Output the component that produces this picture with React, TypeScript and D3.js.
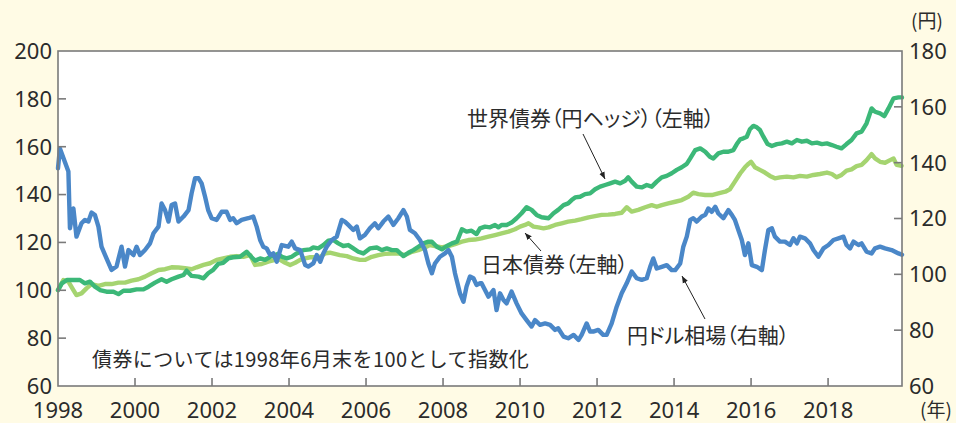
import React from "react";
import * as d3 from "d3";

// 円ドル相場 (右軸, 円) [年, 値]
const yenUsd: [number, number][] = [
  [1998.0, 138.0], [1998.05, 145.1], [1998.27, 136.8], [1998.31, 116.5], [1998.4, 123.6],
  [1998.48, 113.5], [1998.61, 118.3], [1998.7, 119.5], [1998.79, 118.9], [1998.87, 122.1],
  [1998.96, 121.2], [1999.05, 117.1], [1999.13, 109.9], [1999.26, 105.7], [1999.39, 101.6],
  [1999.52, 102.8], [1999.65, 109.9], [1999.74, 102.8], [1999.83, 108.7], [1999.96, 106.9],
  [2000.04, 109.9], [2000.13, 106.9], [2000.26, 108.7], [2000.39, 111.1], [2000.48, 114.7],
  [2000.61, 117.1], [2000.69, 125.4], [2000.78, 123.0], [2000.87, 118.9], [2000.95, 124.8],
  [2001.04, 125.4], [2001.13, 118.9], [2001.26, 120.7], [2001.39, 123.0], [2001.47, 129.0],
  [2001.56, 134.4], [2001.65, 134.4], [2001.73, 132.6], [2001.82, 127.8], [2001.9, 123.0],
  [2001.99, 120.1], [2002.12, 119.5], [2002.25, 122.4], [2002.38, 122.4], [2002.47, 119.5],
  [2002.55, 120.1], [2002.64, 118.3], [2002.77, 119.5], [2002.94, 120.1], [2003.07, 120.7],
  [2003.16, 117.1], [2003.25, 112.3], [2003.33, 109.9], [2003.42, 109.3], [2003.51, 106.9],
  [2003.59, 107.5], [2003.68, 104.5], [2003.81, 110.5], [2003.98, 109.9], [2004.07, 111.7],
  [2004.16, 109.3], [2004.29, 108.7], [2004.42, 103.3], [2004.5, 102.8], [2004.63, 103.9],
  [2004.72, 106.9], [2004.81, 104.5], [2004.89, 107.5], [2004.98, 109.9], [2005.11, 112.3],
  [2005.24, 113.5], [2005.37, 119.5], [2005.45, 118.9], [2005.54, 117.7], [2005.67, 115.9],
  [2005.76, 117.1], [2005.84, 112.9], [2005.97, 114.1], [2006.1, 116.5], [2006.23, 118.3],
  [2006.32, 116.5], [2006.45, 118.9], [2006.58, 120.7], [2006.71, 117.7], [2006.84, 120.1],
  [2006.97, 123.0], [2007.06, 120.7], [2007.14, 115.9], [2007.27, 114.7], [2007.4, 112.3],
  [2007.53, 108.7], [2007.62, 103.9], [2007.71, 100.4], [2007.79, 103.9], [2007.92, 106.3],
  [2008.05, 107.5], [2008.14, 108.7], [2008.23, 106.3], [2008.31, 100.4], [2008.44, 93.2],
  [2008.53, 90.2], [2008.61, 95.6], [2008.7, 99.2], [2008.79, 98.6], [2008.87, 96.2],
  [2008.96, 96.8], [2009.0, 96.8], [2009.18, 92.0], [2009.31, 94.4], [2009.39, 87.2],
  [2009.48, 93.2], [2009.57, 90.8], [2009.65, 89.6], [2009.78, 93.8], [2009.91, 89.6],
  [2010.04, 86.0], [2010.17, 83.6], [2010.3, 81.3], [2010.39, 83.6], [2010.52, 81.9],
  [2010.65, 82.4], [2010.78, 81.9], [2010.91, 80.1], [2010.99, 80.7], [2011.13, 77.7],
  [2011.25, 77.1], [2011.39, 78.3], [2011.52, 76.5], [2011.6, 78.3], [2011.73, 82.4],
  [2011.82, 79.5], [2011.9, 79.5], [2012.03, 80.1], [2012.16, 78.3], [2012.25, 78.3],
  [2012.38, 82.4], [2012.51, 88.4], [2012.64, 93.2], [2012.77, 96.8], [2012.9, 101.0],
  [2013.03, 98.6], [2013.16, 98.0], [2013.29, 98.6], [2013.38, 102.7], [2013.46, 105.7],
  [2013.55, 102.1], [2013.68, 102.7], [2013.81, 103.3], [2013.94, 101.5], [2014.03, 101.5],
  [2014.16, 103.9], [2014.24, 109.9], [2014.33, 113.5], [2014.42, 119.5], [2014.5, 120.1],
  [2014.59, 118.9], [2014.72, 120.7], [2014.81, 121.3], [2014.89, 123.6], [2014.98, 122.4],
  [2015.07, 124.2], [2015.15, 121.8], [2015.28, 120.1], [2015.41, 123.0], [2015.5, 121.3],
  [2015.58, 119.5], [2015.67, 115.9], [2015.76, 112.3], [2015.84, 106.9], [2015.93, 111.1],
  [2016.02, 103.3], [2016.15, 102.7], [2016.28, 101.5], [2016.36, 108.7], [2016.45, 115.9],
  [2016.54, 116.5], [2016.62, 113.5], [2016.75, 111.7], [2016.88, 111.7], [2017.01, 110.5],
  [2017.1, 112.9], [2017.19, 111.1], [2017.27, 113.5], [2017.4, 112.9], [2017.53, 111.1],
  [2017.62, 108.7], [2017.75, 106.3], [2017.88, 109.3], [2018.01, 110.5], [2018.14, 112.3],
  [2018.27, 112.9], [2018.4, 113.5], [2018.48, 110.5], [2018.57, 109.3], [2018.66, 111.7],
  [2018.79, 110.5], [2018.87, 111.1], [2019.0, 108.1], [2019.13, 107.5], [2019.22, 109.3],
  [2019.35, 109.9], [2019.48, 109.3], [2019.65, 108.7], [2019.83, 107.5], [2019.92, 107.0],
];

// 世界債券（円ヘッジ） (左軸, 1998年6月末=100)
const worldBond: [number, number][] = [
  [1998.0, 100.1], [1998.1, 102.9], [1998.23, 104.3], [1998.4, 104.3], [1998.57, 104.3],
  [1998.7, 102.9], [1998.83, 103.6], [1998.96, 101.5], [1999.09, 100.1], [1999.26, 99.4],
  [1999.44, 99.4], [1999.57, 98.4], [1999.7, 99.8], [1999.87, 99.8], [2000.04, 100.4],
  [2000.22, 100.4], [2000.35, 101.5], [2000.52, 103.2], [2000.69, 104.6], [2000.82, 103.6],
  [2000.95, 104.6], [2001.13, 105.7], [2001.26, 106.4], [2001.34, 108.2], [2001.47, 106.0],
  [2001.65, 105.7], [2001.78, 105.0], [2001.9, 107.1], [2002.03, 108.5], [2002.16, 111.0],
  [2002.29, 111.5], [2002.42, 113.3], [2002.55, 113.8], [2002.73, 114.0], [2002.9, 116.1],
  [2003.03, 113.8], [2003.12, 112.4], [2003.25, 113.3], [2003.38, 112.7], [2003.51, 114.0],
  [2003.64, 114.7], [2003.72, 115.2], [2003.81, 114.0], [2003.94, 113.3], [2004.07, 114.0],
  [2004.2, 115.4], [2004.37, 116.8], [2004.55, 117.1], [2004.63, 117.9], [2004.76, 117.5],
  [2004.89, 118.9], [2005.02, 120.7], [2005.15, 121.0], [2005.28, 119.6], [2005.41, 118.5],
  [2005.54, 118.9], [2005.67, 117.5], [2005.8, 116.1], [2005.93, 115.4], [2006.1, 117.5],
  [2006.28, 117.9], [2006.41, 116.8], [2006.54, 117.5], [2006.67, 116.8], [2006.8, 116.8],
  [2006.97, 114.3], [2007.1, 115.7], [2007.23, 116.8], [2007.36, 118.2], [2007.49, 119.6],
  [2007.62, 120.3], [2007.71, 120.3], [2007.84, 118.2], [2007.97, 117.1], [2008.1, 118.5],
  [2008.23, 119.6], [2008.36, 120.3], [2008.49, 125.5], [2008.61, 124.5], [2008.74, 124.9],
  [2008.87, 123.5], [2008.96, 125.9], [2009.09, 126.6], [2009.22, 126.3], [2009.35, 127.3],
  [2009.44, 126.3], [2009.52, 127.3], [2009.65, 127.3], [2009.78, 128.3], [2009.91, 130.1],
  [2010.04, 132.2], [2010.17, 134.7], [2010.3, 133.6], [2010.43, 131.5], [2010.56, 130.5],
  [2010.74, 130.1], [2010.87, 132.2], [2010.99, 133.6], [2011.13, 135.6], [2011.25, 136.3],
  [2011.34, 137.7], [2011.43, 138.8], [2011.56, 139.1], [2011.69, 140.2], [2011.82, 140.5],
  [2011.95, 142.2], [2012.08, 143.3], [2012.21, 144.0], [2012.34, 144.7], [2012.47, 145.4],
  [2012.6, 144.7], [2012.73, 145.8], [2012.81, 147.2], [2012.9, 145.4], [2013.03, 143.3],
  [2013.16, 143.0], [2013.29, 144.0], [2013.42, 143.3], [2013.55, 145.4], [2013.68, 147.2],
  [2013.81, 147.8], [2013.94, 148.9], [2014.07, 150.3], [2014.2, 151.4], [2014.33, 152.8],
  [2014.42, 155.1], [2014.55, 158.6], [2014.68, 159.3], [2014.81, 157.9], [2014.93, 155.8],
  [2015.02, 155.1], [2015.15, 157.2], [2015.28, 157.9], [2015.41, 157.9], [2015.54, 158.6],
  [2015.63, 161.1], [2015.72, 163.1], [2015.8, 163.5], [2015.89, 164.2], [2015.97, 167.3],
  [2016.06, 168.7], [2016.15, 168.1], [2016.23, 167.0], [2016.32, 164.2], [2016.43, 161.1],
  [2016.54, 160.3], [2016.67, 161.1], [2016.8, 161.4], [2016.93, 162.1], [2017.06, 161.4],
  [2017.19, 162.8], [2017.32, 162.1], [2017.45, 162.5], [2017.58, 161.4], [2017.71, 161.7],
  [2017.84, 161.1], [2017.97, 161.4], [2018.1, 160.7], [2018.22, 160.0], [2018.35, 159.3],
  [2018.48, 161.1], [2018.61, 162.8], [2018.74, 165.6], [2018.87, 166.3], [2019.0, 169.8],
  [2019.13, 176.0], [2019.22, 174.6], [2019.35, 173.9], [2019.46, 172.8], [2019.57, 176.0],
  [2019.7, 180.2], [2019.83, 180.6], [2019.92, 180.6],
];

// 日本債券 (左軸, 1998年6月末=100)
const japanBond: [number, number][] = [
  [1998.0, 100.1], [1998.14, 104.3], [1998.27, 103.6], [1998.4, 100.1], [1998.48, 98.0],
  [1998.61, 98.7], [1998.74, 100.8], [1998.87, 102.6], [1999.05, 101.8], [1999.22, 102.6],
  [1999.39, 102.6], [1999.57, 103.2], [1999.74, 103.2], [1999.91, 104.0], [2000.09, 104.6],
  [2000.26, 105.7], [2000.43, 107.1], [2000.61, 108.5], [2000.78, 108.8], [2000.95, 109.6],
  [2001.13, 109.5], [2001.3, 109.2], [2001.47, 108.8], [2001.6, 109.6], [2001.78, 110.6],
  [2001.95, 111.3], [2002.12, 112.7], [2002.29, 113.3], [2002.47, 114.0], [2002.64, 114.3],
  [2002.81, 114.0], [2002.99, 114.7], [2003.12, 110.6], [2003.29, 111.0], [2003.46, 112.0],
  [2003.64, 112.7], [2003.77, 112.7], [2003.9, 111.5], [2004.03, 110.6], [2004.16, 111.5],
  [2004.29, 112.7], [2004.42, 113.3], [2004.55, 113.8], [2004.68, 113.8], [2004.81, 114.0],
  [2004.94, 115.4], [2005.06, 115.7], [2005.19, 115.2], [2005.32, 114.7], [2005.5, 114.3],
  [2005.67, 113.3], [2005.84, 112.7], [2005.97, 112.7], [2006.15, 114.0], [2006.32, 114.7],
  [2006.49, 115.2], [2006.67, 115.4], [2006.84, 115.4], [2007.01, 114.7], [2007.19, 116.1],
  [2007.36, 116.8], [2007.53, 117.9], [2007.66, 118.9], [2007.79, 118.5], [2007.97, 117.9],
  [2008.14, 118.5], [2008.31, 119.3], [2008.49, 120.3], [2008.66, 121.0], [2008.83, 121.2],
  [2009.0, 121.7], [2009.18, 122.4], [2009.35, 123.1], [2009.52, 123.8], [2009.7, 124.5],
  [2009.87, 125.5], [2010.0, 126.6], [2010.13, 127.3], [2010.22, 128.0], [2010.35, 126.6],
  [2010.48, 126.3], [2010.61, 125.9], [2010.74, 126.3], [2010.91, 127.3], [2011.08, 128.0],
  [2011.25, 128.7], [2011.43, 129.1], [2011.6, 129.7], [2011.78, 130.5], [2011.95, 131.0],
  [2012.12, 131.5], [2012.29, 131.6], [2012.47, 131.9], [2012.64, 132.4], [2012.77, 134.7],
  [2012.9, 132.9], [2013.07, 133.6], [2013.25, 134.7], [2013.42, 135.6], [2013.55, 134.9],
  [2013.68, 135.6], [2013.85, 136.3], [2014.03, 137.0], [2014.2, 137.7], [2014.37, 139.1],
  [2014.5, 140.8], [2014.63, 140.2], [2014.81, 139.8], [2014.98, 139.8], [2015.15, 140.5],
  [2015.33, 141.2], [2015.45, 142.2], [2015.58, 145.4], [2015.72, 148.9], [2015.84, 151.4],
  [2015.93, 152.8], [2016.0, 153.7], [2016.1, 151.4], [2016.23, 150.3], [2016.36, 149.2],
  [2016.49, 147.8], [2016.62, 146.8], [2016.75, 147.2], [2016.93, 147.5], [2017.1, 147.2],
  [2017.27, 147.8], [2017.45, 147.5], [2017.62, 148.2], [2017.79, 148.6], [2017.97, 149.2],
  [2018.1, 148.6], [2018.22, 147.2], [2018.35, 148.2], [2018.48, 150.0], [2018.61, 150.5],
  [2018.74, 151.9], [2018.87, 152.4], [2019.0, 154.4], [2019.13, 156.9], [2019.22, 155.1],
  [2019.35, 153.7], [2019.48, 153.3], [2019.61, 154.4], [2019.7, 155.1], [2019.78, 152.4],
  [2019.91, 152.0],
];

const leftTicks = [60, 80, 100, 120, 140, 160, 180, 200];
const rightTicks = [60, 80, 100, 120, 140, 160, 180];
const yearTicks = [1998, 2000, 2002, 2004, 2006, 2008, 2010, 2012, 2014, 2016, 2018];

const W = 956;
const H = 423;
const m = { left: 58, right: 902, top: 51, bottom: 386 };

const jp = "'Noto Sans CJK JP', 'Noto Sans', sans-serif";
const num = "'Noto Sans', 'Open Sans', sans-serif";
const ink = "#2b2b2b";
const frame = "#7a7a7a";

export default function App() {
  const x = d3.scaleLinear().domain([1998, 2019.92]).range([m.left, m.right]);
  const yL = d3.scaleLinear().domain([60, 200]).range([m.bottom, m.top]);
  const yR = d3.scaleLinear().domain([60, 180]).range([m.bottom, m.top]);

  const lineL = d3.line<[number, number]>().x((d) => x(d[0])).y((d) => yL(d[1]));
  const lineR = d3.line<[number, number]>().x((d) => x(d[0])).y((d) => yR(d[1]));

  return (
    <div style={{ position: "absolute", left: 0, top: 0 }}>
      <svg width={W} height={H} style={{ display: "block" }}>
        <defs>
          <marker id="ah" viewBox="0 0 10 10" refX="10" refY="5" markerWidth="7" markerHeight="7" orient="auto">
            <path d="M0,1 L10,5 L0,9 z" fill="#222" />
          </marker>
        </defs>
        <rect width={W} height={H} fill="#fffbe5" />
        <rect x={m.left} y={m.top} width={m.right - m.left} height={m.bottom - m.top} fill="#fff" />

        {/* series */}
        <g fill="none" strokeWidth={4.4} strokeLinejoin="round" strokeLinecap="round">
          <path d={lineL(japanBond) ?? ""} stroke="#a5d470" />
          <path d={lineL(worldBond) ?? ""} stroke="#3cb878" />
          <path d={lineR(yenUsd) ?? ""} stroke="#4a87c8" />
        </g>

        {/* frame */}
        <rect x={m.left} y={m.top} width={m.right - m.left} height={m.bottom - m.top}
          fill="none" stroke={frame} strokeWidth={1.6} />

        {/* left axis */}
        {leftTicks.map((t) => (
          <g key={"l" + t}>
            {t > 60 && t < 200 && (
              <line x1={m.left} x2={m.left + 8} y1={yL(t)} y2={yL(t)} stroke={frame} strokeWidth={1.6} />
            )}
            <text x={52} y={yL(t)} dy="0.36em" textAnchor="end" fontFamily={num} fontSize={22} fill={ink}>
              {t}
            </text>
          </g>
        ))}

        {/* right axis */}
        {rightTicks.map((t) => (
          <g key={"r" + t}>
            {t > 60 && t < 180 && (
              <line x1={m.right - 8} x2={m.right} y1={yR(t)} y2={yR(t)} stroke={frame} strokeWidth={1.6} />
            )}
            <text x={909} y={yR(t)} dy="0.36em" textAnchor="start" fontFamily={num} fontSize={22} fill={ink}>
              {t}
            </text>
          </g>
        ))}
        <text x={927} y={21} dy="0.36em" textAnchor="middle" fontFamily={jp} fontSize={19} fill={ink}
          style={{ fontFeatureSettings: "'palt'" }}>
          (円)
        </text>

        {/* bottom axis */}
        {yearTicks.map((t) => (
          <g key={"x" + t}>
            {t > 1998 && (
              <line x1={x(t)} x2={x(t)} y1={m.bottom - 8} y2={m.bottom} stroke={frame} strokeWidth={1.6} />
            )}
            <text x={x(t)} y={410} dy="0.36em" textAnchor="middle" fontFamily={num} fontSize={22} fill={ink}>
              {t}
            </text>
          </g>
        ))}
        <text x={936} y={410} dy="0.36em" textAnchor="middle" fontFamily={jp} fontSize={19} fill={ink}>
          (年)
        </text>

        {/* annotations */}
        <g fontFamily={jp} fontSize={21} fill={ink} style={{ fontFeatureSettings: "'palt'" }}>
          <text x={467} y={118} dy="0.36em">世界債券（円ヘッジ）（左軸）</text>
          <text x={481} y={264} dy="0.36em">日本債券（左軸）</text>
          <text x={627} y={335} dy="0.36em">円ドル相場（右軸）</text>
        </g>
        <text x={92} y={360} dy="0.36em" fontFamily={jp} fontSize={20} fill={ink} letterSpacing={0.4}>
          債券については1998年6月末を100として指数化
        </text>
        <g stroke="#222" strokeWidth={1}>
          <line x1={583} y1={134} x2={605} y2={179} markerEnd="url(#ah)" />
          <line x1={541} y1={251} x2={525} y2={233} markerEnd="url(#ah)" />
          <line x1={705} y1={319} x2={682} y2={276} markerEnd="url(#ah)" />
        </g>
      </svg>
    </div>
  );
}
